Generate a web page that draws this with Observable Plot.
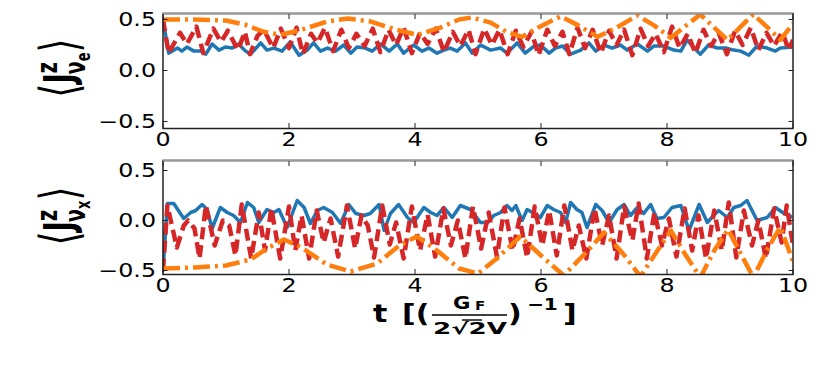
<!DOCTYPE html>
<html><head><meta charset="utf-8">
<script src="https://cdn.jsdelivr.net/npm/d3@7"></script>
<script src="https://cdn.jsdelivr.net/npm/@observablehq/plot@0.6"></script>
<style>
html,body{margin:0;padding:0;background:#fff;}
#chart{position:relative;width:830px;height:374px;overflow:hidden;font-family:"DejaVu Sans",sans-serif;}
#chart svg{position:absolute;left:0;}
</style></head><body><div id="chart"></div>
<script>
const xTicks = [0, 2, 4, 6, 8, 10];
const yTicks = [-0.5, 0, 0.5];
const topDomain = [-0.569, 0.559];
const bottomDomain = [-0.54, 0.6];

// top panel  <J^z_{nu_e}>
const topBlue = [[0,0.50],[0.09,0.17],[0.23,0.22],[0.30,0.19],[0.38,0.23],[0.49,0.19],[0.60,0.19],[0.68,0.16],[0.78,0.26],[0.89,0.20],[0.99,0.23],[1.10,0.22],[1.20,0.26],[1.31,0.19],[1.39,0.16],[1.55,0.27],[1.65,0.20],[1.76,0.22],[1.89,0.19],[2.02,0.28],[2.16,0.15],[2.29,0.20],[2.39,0.27],[2.50,0.19],[2.61,0.22],[2.74,0.19],[2.87,0.25],[2.98,0.17],[3.08,0.23],[3.21,0.22],[3.32,0.19],[3.45,0.26],[3.59,0.19],[3.72,0.26],[3.82,0.17],[3.98,0.25],[4.11,0.19],[4.22,0.22],[4.35,0.17],[4.46,0.20],[4.56,0.22],[4.67,0.19],[4.80,0.27],[4.91,0.17],[5.04,0.25],[5.20,0.20],[5.36,0.22],[5.46,0.17],[5.62,0.27],[5.75,0.17],[5.89,0.24],[5.99,0.25],[6.13,0.17],[6.23,0.22],[6.34,0.24],[6.47,0.16],[6.63,0.20],[6.76,0.27],[6.87,0.19],[7.00,0.25],[7.13,0.22],[7.26,0.25],[7.37,0.20],[7.53,0.26],[7.69,0.19],[7.79,0.24],[7.95,0.24],[8.11,0.20],[8.22,0.19],[8.32,0.30],[8.43,0.22],[8.53,0.16],[8.66,0.25],[8.80,0.22],[8.93,0.22],[9.06,0.20],[9.17,0.19],[9.30,0.15],[9.43,0.24],[9.59,0.22],[9.72,0.19],[9.80,0.22],[10,0.23]];
const topRed = [[0,0.50],[0.09,0.17],[0.27,0.37],[0.38,0.26],[0.53,0.43],[0.64,0.17],[0.80,0.41],[0.92,0.28],[1.03,0.39],[1.19,0.20],[1.30,0.38],[1.38,0.16],[1.50,0.34],[1.60,0.40],[1.75,0.22],[1.87,0.41],[2.00,0.22],[2.12,0.42],[2.22,0.16],[2.35,0.36],[2.45,0.27],[2.57,0.42],[2.70,0.19],[2.83,0.40],[2.95,0.22],[3.07,0.36],[3.20,0.24],[3.33,0.41],[3.45,0.18],[3.58,0.40],[3.70,0.25],[3.82,0.42],[3.95,0.17],[4.08,0.37],[4.20,0.26],[4.33,0.41],[4.46,0.18],[4.60,0.38],[4.72,0.24],[4.85,0.40],[4.96,0.16],[5.10,0.41],[5.22,0.25],[5.34,0.40],[5.47,0.16],[5.60,0.39],[5.72,0.23],[5.85,0.38],[5.96,0.15],[6.10,0.40],[6.22,0.24],[6.34,0.38],[6.45,0.16],[6.58,0.42],[6.70,0.22],[6.82,0.40],[6.95,0.17],[7.08,0.39],[7.20,0.25],[7.32,0.40],[7.45,0.15],[7.58,0.41],[7.70,0.24],[7.82,0.36],[7.95,0.18],[8.08,0.43],[8.20,0.22],[8.33,0.36],[8.45,0.17],[8.58,0.40],[8.70,0.24],[8.82,0.37],[8.95,0.16],[9.08,0.39],[9.20,0.25],[9.33,0.42],[9.45,0.20],[9.58,0.37],[9.70,0.24],[9.83,0.38],[9.93,0.20],[10,0.30]];
const topOrange = [[0,0.50],[0.5,0.50],[1.0,0.49],[1.3,0.45],[1.6,0.38],[1.87,0.35],[2.2,0.40],[2.6,0.48],[2.93,0.51],[3.3,0.48],[3.7,0.40],[4.04,0.35],[4.4,0.42],[4.7,0.50],[4.9,0.52],[5.2,0.47],[5.45,0.38],[5.7,0.33],[5.95,0.42],[6.31,0.53],[6.6,0.44],[6.9,0.33],[7.2,0.42],[7.53,0.54],[7.8,0.44],[8.06,0.32],[8.3,0.44],[8.53,0.55],[8.75,0.42],[8.96,0.30],[9.17,0.43],[9.37,0.55],[9.6,0.42],[9.8,0.30],[10,0.46]];

// bottom panel  <J^z_{nu_x}>
const bottomBlue = [[0,-0.50],[0.07,0.17],[0.17,0.17],[0.33,0.02],[0.44,0.08],[0.52,0.10],[0.62,0.16],[0.70,0.11],[0.78,-0.08],[0.91,0.13],[1.02,0.08],[1.12,0.05],[1.23,-0.02],[1.34,0.18],[1.44,0.13],[1.52,-0.02],[1.65,0.11],[1.76,0.08],[1.84,0.11],[1.97,-0.07],[2.13,0.20],[2.24,0.13],[2.34,-0.03],[2.45,0.10],[2.55,0.13],[2.69,0.08],[2.82,-0.03],[2.95,0.16],[3.06,0.07],[3.19,0.05],[3.29,0.07],[3.43,0.16],[3.51,-0.10],[3.61,0.07],[3.74,0.16],[3.88,0.03],[3.98,-0.02],[4.14,0.13],[4.25,0.08],[4.35,0.05],[4.46,0.13],[4.59,0.03],[4.72,0.15],[4.88,0.11],[5.04,-0.02],[5.15,-0.02],[5.25,0.05],[5.36,0.08],[5.46,0.15],[5.54,0.10],[5.60,0.15],[5.70,0.00],[5.78,0.11],[5.89,0.07],[5.99,0.03],[6.10,0.15],[6.20,0.11],[6.31,0.08],[6.39,-0.02],[6.47,0.18],[6.57,0.11],[6.65,0.08],[6.73,-0.07],[6.87,0.16],[6.97,0.10],[7.08,-0.02],[7.21,0.11],[7.32,0.16],[7.42,0.05],[7.53,0.13],[7.63,0.07],[7.74,0.16],[7.84,0.02],[7.95,0.03],[8.08,0.13],[8.22,0.15],[8.35,-0.10],[8.51,0.16],[8.64,-0.02],[8.74,0.05],[8.82,0.10],[8.96,0.03],[9.06,0.13],[9.17,0.15],[9.27,0.20],[9.43,0.00],[9.59,0.03],[9.72,0.13],[9.86,0.07],[10,0.03]];
const bottomRed = [[0,-0.50],[0.07,0.15],[0.22,-0.27],[0.33,-0.05],[0.40,0.00],[0.50,-0.08],[0.58,-0.38],[0.68,0.15],[0.82,-0.25],[0.95,0.00],[1.05,-0.05],[1.15,-0.35],[1.25,0.16],[1.40,-0.38],[1.52,0.08],[1.62,-0.30],[1.72,0.12],[1.86,-0.38],[2.00,0.14],[2.10,-0.30],[2.20,0.05],[2.32,-0.38],[2.44,0.10],[2.55,-0.22],[2.66,0.02],[2.78,-0.36],[2.92,0.15],[3.05,-0.28],[3.15,0.05],[3.25,-0.05],[3.35,-0.37],[3.48,0.15],[3.60,-0.24],[3.70,-0.02],[3.82,-0.38],[3.95,0.14],[4.08,-0.30],[4.20,0.06],[4.32,-0.36],[4.45,0.12],[4.57,-0.25],[4.68,0.00],[4.80,-0.38],[4.92,0.14],[5.05,-0.28],[5.17,0.08],[5.30,-0.36],[5.42,0.13],[5.55,-0.30],[5.66,0.02],[5.78,-0.37],[5.90,0.14],[6.02,-0.25],[6.13,0.10],[6.25,-0.35],[6.37,0.15],[6.50,-0.30],[6.60,-0.05],[6.72,-0.38],[6.85,0.12],[6.97,-0.25],[7.08,0.05],[7.20,-0.38],[7.32,0.14],[7.45,-0.20],[7.55,0.17],[7.68,-0.38],[7.80,0.08],[7.92,-0.25],[8.03,0.02],[8.15,-0.36],[8.28,0.12],[8.40,-0.30],[8.50,0.05],[8.62,-0.38],[8.75,0.10],[8.87,-0.30],[8.98,0.18],[9.10,-0.37],[9.22,0.10],[9.35,-0.25],[9.45,0.00],[9.57,-0.38],[9.70,0.12],[9.82,-0.22],[9.90,0.15],[10,-0.25]];
const bottomOrange = [[0,-0.48],[0.5,-0.47],[1.0,-0.45],[1.39,-0.39],[1.65,-0.28],[1.92,-0.19],[2.2,-0.27],[2.6,-0.44],[2.98,-0.51],[3.4,-0.43],[3.75,-0.25],[4.03,-0.16],[4.35,-0.30],[4.7,-0.48],[5.0,-0.53],[5.3,-0.38],[5.67,-0.16],[6.0,-0.35],[6.36,-0.55],[6.7,-0.33],[7.0,-0.12],[7.3,-0.33],[7.58,-0.56],[7.85,-0.30],[8.06,-0.10],[8.3,-0.35],[8.53,-0.57],[8.75,-0.30],[8.97,-0.09],[9.17,-0.33],[9.37,-0.57],[9.6,-0.28],[9.8,-0.065],[10,-0.41]];

const COLORS = {blue: "#1f77b4", red: "#d62728", orange: "#ff7f0e"};
const fmt = d3.format(".1f");
const STRETCH = 1.25;

function panel(blue, red, orange, yDomain, marginBottom) {
  return Plot.plot({
    width: 830, height: 150,
    marginLeft: 162.5, marginRight: 37.5, marginTop: 13, marginBottom,
    style: {fontFamily: "DejaVu Sans", fontSize: "19px", color: "#000", background: "transparent", overflow: "visible"},
    x: {domain: [0, 10]},
    y: {domain: yDomain},
    marks: [
      Plot.line(blue, {stroke: COLORS.blue, strokeWidth: 3.5, clip: true}),
      Plot.line(red, {stroke: COLORS.red, strokeWidth: 4.5, strokeDasharray: "12,6", strokeLinecap: "butt", clip: true}),
      Plot.line(orange, {stroke: COLORS.orange, strokeWidth: 4.5, strokeDasharray: "17,5,3,5", strokeLinecap: "butt", clip: true}),
      Plot.frame({stroke: "#222", strokeWidth: 1.5}),
      Plot.ruleY([yDomain[1]], {stroke: "#999", strokeWidth: 2}),
      Plot.axisX(xTicks, {anchor: "bottom", tickSize: -5, tickPadding: 9, fontSize: 19, label: null, stroke: "#222"}),
      Plot.axisX(xTicks, {anchor: "top", tickSize: -5, tickFormat: () => "", label: null, stroke: "#222"}),
      Plot.axisY(yTicks, {anchor: "left", tickSize: -5, tickPadding: 12, fontSize: 19, tickFormat: fmt, label: null, stroke: "#222"}),
      Plot.axisY(yTicks, {anchor: "right", tickSize: -5, tickFormat: () => "", label: null, stroke: "#222"})
    ]
  });
}

const chart = document.getElementById("chart");
const p1 = panel(topBlue, topRed, topOrange, topDomain, 22);
p1.style.top = "0px";
chart.appendChild(p1);
const p2 = panel(bottomBlue, bottomRed, bottomOrange, bottomDomain, 23);
p2.style.top = "147px";
chart.appendChild(p2);

// stretch tick labels horizontally like the reference
for (const svg of [p1, p2]) {
  d3.select(svg).selectAll("g[aria-label$='tick label'] text").each(function () {
    const w = this.getComputedTextLength();
    if (w > 0) {
      this.setAttribute("textLength", w * STRETCH);
      this.setAttribute("lengthAdjust", "spacingAndGlyphs");
    }
  });
}

// overlay for axis titles
const ov = d3.select(chart).append("svg")
  .attr("width", 830).attr("height", 374)
  .style("top", "0px").style("pointer-events", "none")
  .attr("font-family", "DejaVu Sans").attr("fill", "#000");

function yLabel(cx, cy, sub) {
  const g = ov.append("g").attr("transform", `translate(${cx},${cy}) scale(1.45,1) rotate(-90)`);
  const t = g.append("text").attr("text-anchor", "middle").attr("font-weight", "bold");
  t.append("tspan").attr("font-size", 36).attr("font-weight", "normal").attr("dy", 3).text("\u27E8");
  t.append("tspan").attr("font-size", 28).attr("dy", -3).text("J");
  t.append("tspan").attr("font-size", 19).attr("dy", -11).text("z");
  t.append("tspan").attr("font-size", 19).attr("dx", -12).attr("dy", 19).text("\u03BD");
  t.append("tspan").attr("font-size", 13).attr("dy", 4).text(sub);
  t.append("tspan").attr("font-size", 36).attr("font-weight", "normal").attr("dy", -9).text("\u27E9");
}
yLabel(73, 68, "e");
yLabel(73, 216, "x");

function piece(x, y, str, size, opts = {}) {
  const t = ov.append("text")
    .attr("transform", `translate(${x},${y}) scale(${STRETCH},1)`)
    .attr("font-size", size).attr("font-weight", "bold").text(str);
  if (opts.len) t.attr("textLength", opts.len / STRETCH).attr("lengthAdjust", "spacingAndGlyphs");
  return t;
}
piece(373, 322, "t", 24);
piece(402, 322, "[(", 24);
ov.append("line").attr("x1", 432).attr("x2", 507).attr("y1", 315).attr("y2", 315).attr("stroke", "#000").attr("stroke-width", 1.6);
piece(453, 309, "G", 17);
piece(475, 310, "F", 12);
piece(433, 334, "2\u221A2V", 16, {len: 74});
ov.append("line").attr("x1", 462).attr("x2", 482).attr("y1", 320).attr("y2", 320).attr("stroke", "#000").attr("stroke-width", 1.4);
piece(508, 322, ")", 24);
piece(527, 310, "\u22121", 16);
piece(563, 322, "]", 24);
</script>
</body></html>
